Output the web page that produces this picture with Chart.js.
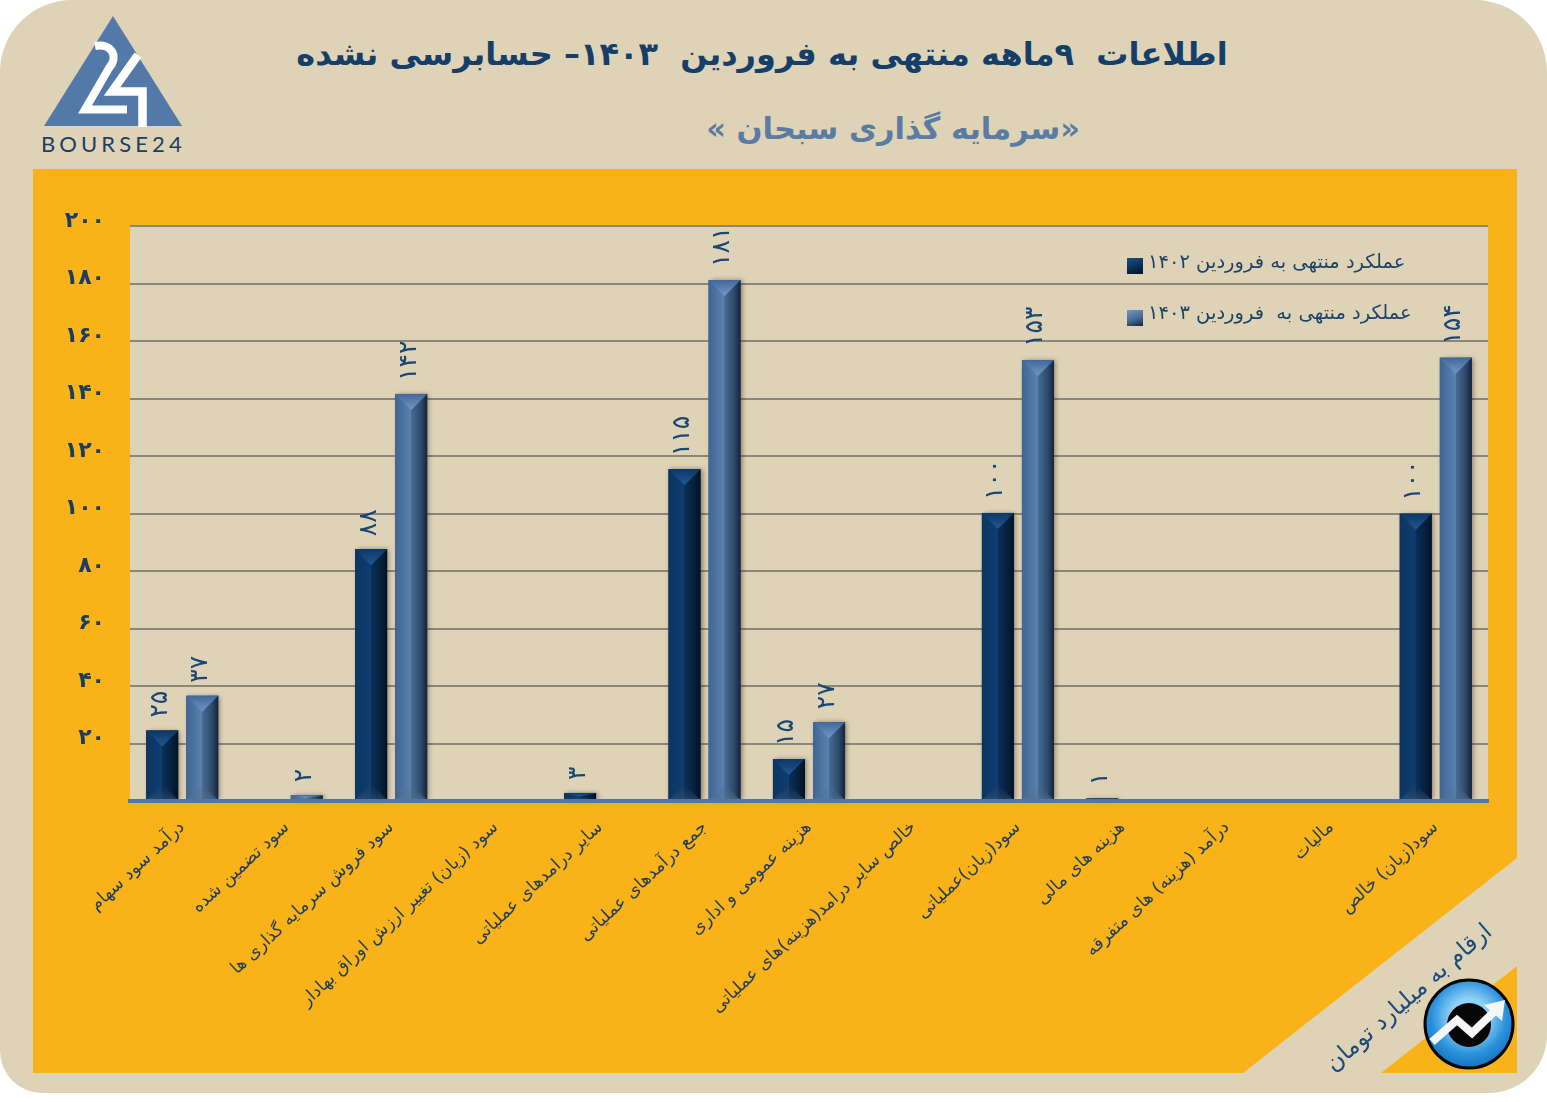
<!DOCTYPE html>
<html lang="fa">
<head>
<meta charset="utf-8">
<title>سرمایه گذاری سبحان</title>
<script src="https://cdn.jsdelivr.net/npm/chart.js@4"></script>
<style>
html,body{margin:0;padding:0;background:#fff;width:1547px;height:1102px;overflow:hidden;font-family:"DejaVu Sans",sans-serif}
#wrap{position:relative;width:1547px;height:1102px;overflow:hidden}
#paper{position:absolute;left:0;top:0;width:1547px;height:1093px;background:#dfd3b7;border-radius:72px 72px 58px 42px}
#panel{position:absolute;left:33px;top:169px;width:1484px;height:904px;background:#f9b218;clip-path:polygon(0 0,100% 0,100% 689px,1210px 100%,0 100%)}
#corner{position:absolute;left:1381px;top:966px;width:136px;height:107px;background:#f9b218;clip-path:polygon(0 100%,100% 0,100% 100%)}
canvas{position:absolute;left:0;top:0}
.t{position:absolute;white-space:pre;direction:rtl}
#title{left:262px;width:1000px;top:32px;text-align:center;font-size:32px;font-weight:700;color:#153f69;line-height:44px}
#sub{left:493px;width:800px;top:104px;text-align:center;font-size:30.5px;font-weight:700;color:#5a7ca3;line-height:50px}
#note{left:1258px;width:300px;top:980px;text-align:center;font-size:23.5px;color:#1c4c7b;line-height:34px;transform:rotate(-41deg)}
.lg{position:absolute;white-space:pre;direction:rtl;font-size:19.5px;color:#1d4369;line-height:24px;text-align:left}
.sw{position:absolute;width:16px;height:16px}
#brand{position:absolute;left:41px;top:130px;font-family:Lato,sans-serif;font-size:22px;letter-spacing:4.1px;color:#1b3f63;line-height:28px}
svg{position:absolute;left:0;top:0}
</style>
</head>
<body>
<div id="wrap">
  <div id="paper"></div>
  <div id="panel"></div>
  <div id="corner"></div>
  <svg width="1547" height="1102" viewBox="0 0 1547 1102">
    <polygon points="113,16 44,126 182,126" fill="#5379a8"/>
    <path d="M95,46 C112,43 119,57 109,68 L85,109.5 L127,109.5" fill="none" stroke="#fff" stroke-width="8"/>
    <path d="M138,55 L112,91.5 L142.5,91.5 L142.5,127" fill="none" stroke="#fff" stroke-width="8.5"/>
  </svg>
  <div id="brand">BOURSE24</div>
  <div class="t" id="title"></div>
  <div class="t" id="sub"></div>
  <canvas id="c" width="1547" height="1102" dir="rtl"></canvas>
  <div class="sw" id="sw0" style="left:1127px;top:258px"></div>
  <div class="sw" id="sw1" style="left:1127px;top:310px"></div>
  <div class="lg" id="lg0" style="left:1148px;top:250px"></div>
  <div class="lg" id="lg1" style="left:1148px;top:301px"></div>
  <div class="t" id="note"></div>
  <svg width="1547" height="1102" viewBox="0 0 1547 1102" style="pointer-events:none">
    <defs>
      <radialGradient id="blue" cx="0.5" cy="0.42" r="0.6">
        <stop offset="0.35" stop-color="#8fd0f5"/>
        <stop offset="0.7" stop-color="#2a93dd"/>
        <stop offset="1" stop-color="#146fb8"/>
      </radialGradient>
    </defs>
    <circle cx="1469" cy="1024" r="44" fill="url(#blue)" stroke="#050505" stroke-width="3"/>
    <circle cx="1469" cy="1025" r="22" fill="#060606"/>
    <path d="M1432,1042 L1457,1020 L1472,1033 L1497,1009" fill="none" stroke="#f4f6f8" stroke-width="8"/>
    <polygon points="1505,1000 1484,1005 1502,1021" fill="#f4f6f8"/>
  </svg>
</div>
<script>
const categories = [
  "درآمد سود سهام",
  "سود تضمین شده",
  "سود فروش سرمایه گذاری ها",
  "سود (زیان) تغییر ارزش اوراق بهادار",
  "سایر درامدهای عملیاتی",
  "جمع درآمدهای عملیاتی",
  "هزینه عمومی و اداری",
  "خالص سایر درامد(هزینه)های عملیاتی",
  "سود(زیان)عملیاتی",
  "هزینه های مالی",
  "درآمد (هزینه) های متفرقه",
  "مالیات",
  "سود(زیان) خالص"
];
const series1402 = [24.5, null, 87.6, null, 2.8, 115.4, 14.6, null, 100.2, 0.9, null, null, 99.9];
const series1403 = [36.6, 2.0, 141.6, null, null, 181.2, 27.4, null, 153.4, null, null, null, 154.2];
const seriesNames = ["عملکرد منتهی به فروردین ۱۴۰۲", "عملکرد منتهی به  فروردین ۱۴۰۳"];
const yMax = 200, yStep = 20;
const titleText = "اطلاعات  ۹ماهه منتهی به فروردین  ۱۴۰۳– حسابرسی نشده";
const subtitleText = "«سرمایه گذاری سبحان »";
const noteText = "ارقام به میلیارد تومان";

const fa = n => String(n).replace(/\d/g, d => "۰۱۲۳۴۵۶۷۸۹"[d]);
const FONT = '"DejaVu Sans"';

document.getElementById('title').textContent = titleText;
document.getElementById('sub').textContent = subtitleText;
document.getElementById('note').textContent = noteText;
document.getElementById('lg0').textContent = seriesNames[0];
document.getElementById('lg1').textContent = seriesNames[1];

const palettes = [
  { base:'#0d3a68', h:['#0c3560','#0e3d70','#0a2f57','#06203d','#021226'], top:['#0c3866','#235691'], bot:['rgba(40,70,105,0)','rgba(60,85,115,.55)'] },
  { base:'#4a6f9b', h:['#3f6592','#5a82b0','#486b94','#2e4a6b','#13233a'], top:['#41689a','#7198c8'], bot:['rgba(70,100,135,0)','rgba(90,115,145,.55)'] }
];
document.getElementById('sw0').style.background = 'linear-gradient(160deg,#1f5086,#0a2f57 55%,#021226)';
document.getElementById('sw1').style.background = 'linear-gradient(160deg,#7198c8,#486b94 55%,#13233a)';

function bevel(ctx, bar, pal){
  const p = bar.getProps(['x','y','base','width'], true);
  const l = p.x - p.width/2, r = p.x + p.width/2, t = p.y, b = p.base;
  const h = b - t; if (h <= 0) return;
  const d = Math.min(p.width/2, h/2);
  ctx.save();
  ctx.shadowColor = 'rgba(40,30,20,.45)'; ctx.shadowBlur = 5; ctx.shadowOffsetX = 2; ctx.shadowOffsetY = 0;
  const g = ctx.createLinearGradient(l,0,r,0);
  g.addColorStop(0,pal.h[0]); g.addColorStop(.49,pal.h[1]); g.addColorStop(.5,pal.h[2]); g.addColorStop(.8,pal.h[3]); g.addColorStop(1,pal.h[4]);
  ctx.fillStyle = g; ctx.fillRect(l,t,p.width,h);
  ctx.restore();
  const gt = ctx.createLinearGradient(0,t,0,t+d);
  gt.addColorStop(0,pal.top[0]); gt.addColorStop(1,pal.top[1]);
  ctx.fillStyle = gt;
  ctx.beginPath(); ctx.moveTo(l,t); ctx.lineTo(r,t); ctx.lineTo(p.x,t+d); ctx.closePath(); ctx.fill();
  const gb = ctx.createLinearGradient(0,b-d,0,b);
  gb.addColorStop(0,pal.bot[0]); gb.addColorStop(1,pal.bot[1]);
  ctx.fillStyle = gb;
  ctx.beginPath(); ctx.moveTo(l,b); ctx.lineTo(r,b); ctx.lineTo(p.x,b-d); ctx.closePath(); ctx.fill();
}

const panelPlugin = {
  id:'panel',
  beforeDraw(chart){
    const {ctx, chartArea:a} = chart;
    ctx.save(); ctx.fillStyle = '#dfd3b7';
    ctx.fillRect(a.left, a.top, a.right-a.left, a.bottom-a.top);
    ctx.restore();
  },
  afterDatasetsDraw(chart){
    const ctx = chart.ctx;
    chart.data.datasets.forEach((ds,i)=>{
      chart.getDatasetMeta(i).data.forEach((bar,j)=>{
        if (ds.data[j] == null) return;
        bevel(ctx, bar, palettes[i]);
      });
    });
    ctx.save();
    ctx.font = '25px '+FONT; ctx.fillStyle = '#1a4674';
    ctx.textBaseline = 'middle'; ctx.textAlign = 'left';
    chart.data.datasets.forEach((ds,i)=>{
      chart.getDatasetMeta(i).data.forEach((bar,j)=>{
        const v = ds.data[j]; if (v == null) return;
        const txt = fa(Math.round(v));
        ctx.save();
        ctx.translate(bar.x - 2, bar.y - 13);
        ctx.rotate(-Math.PI/2);
        ctx.direction = 'ltr';
        ctx.fillText(txt, 0, 0);
        ctx.restore();
      });
    });
    ctx.restore();
  }
};

new Chart(document.getElementById('c'), {
  type:'bar',
  data:{
    labels:categories,
    datasets:[
      {label:seriesNames[0], data:series1402, backgroundColor:palettes[0].base, categoryPercentage:0.767, barPercentage:0.8},
      {label:seriesNames[1], data:series1403, backgroundColor:palettes[1].base, categoryPercentage:0.767, barPercentage:0.8}
    ]
  },
  plugins:[panelPlugin],
  options:{
    responsive:false, animation:false,
    devicePixelRatio:1,
    layout:{padding:{top:226,right:59,left:0,bottom:0}},
    plugins:{legend:{display:false},title:{display:false},tooltip:{enabled:false}},
    scales:{
      x:{
        grid:{display:false,drawTicks:false},
        border:{display:true,color:'#50789f',width:4,z:1},
        afterFit(s){ s.height = 1102-801; },
        ticks:{autoSkip:false,minRotation:43,maxRotation:43,padding:16,color:'#1f3d5c',font:{family:FONT,size:17.6}}
      },
      y:{
        min:0,max:yMax,
        grid:{color:'#8b857a',lineWidth:2,drawTicks:false},
        border:{display:false},
        afterFit(s){ s.width = 130; },
        ticks:{stepSize:yStep,padding:25,labelOffset:-5,color:'#1b3d60',font:{family:FONT,size:22,weight:'bold'},
          callback:v => v===0 ? '' : fa(v)}
      }
    }
  }
});
</script>
</body>
</html>
